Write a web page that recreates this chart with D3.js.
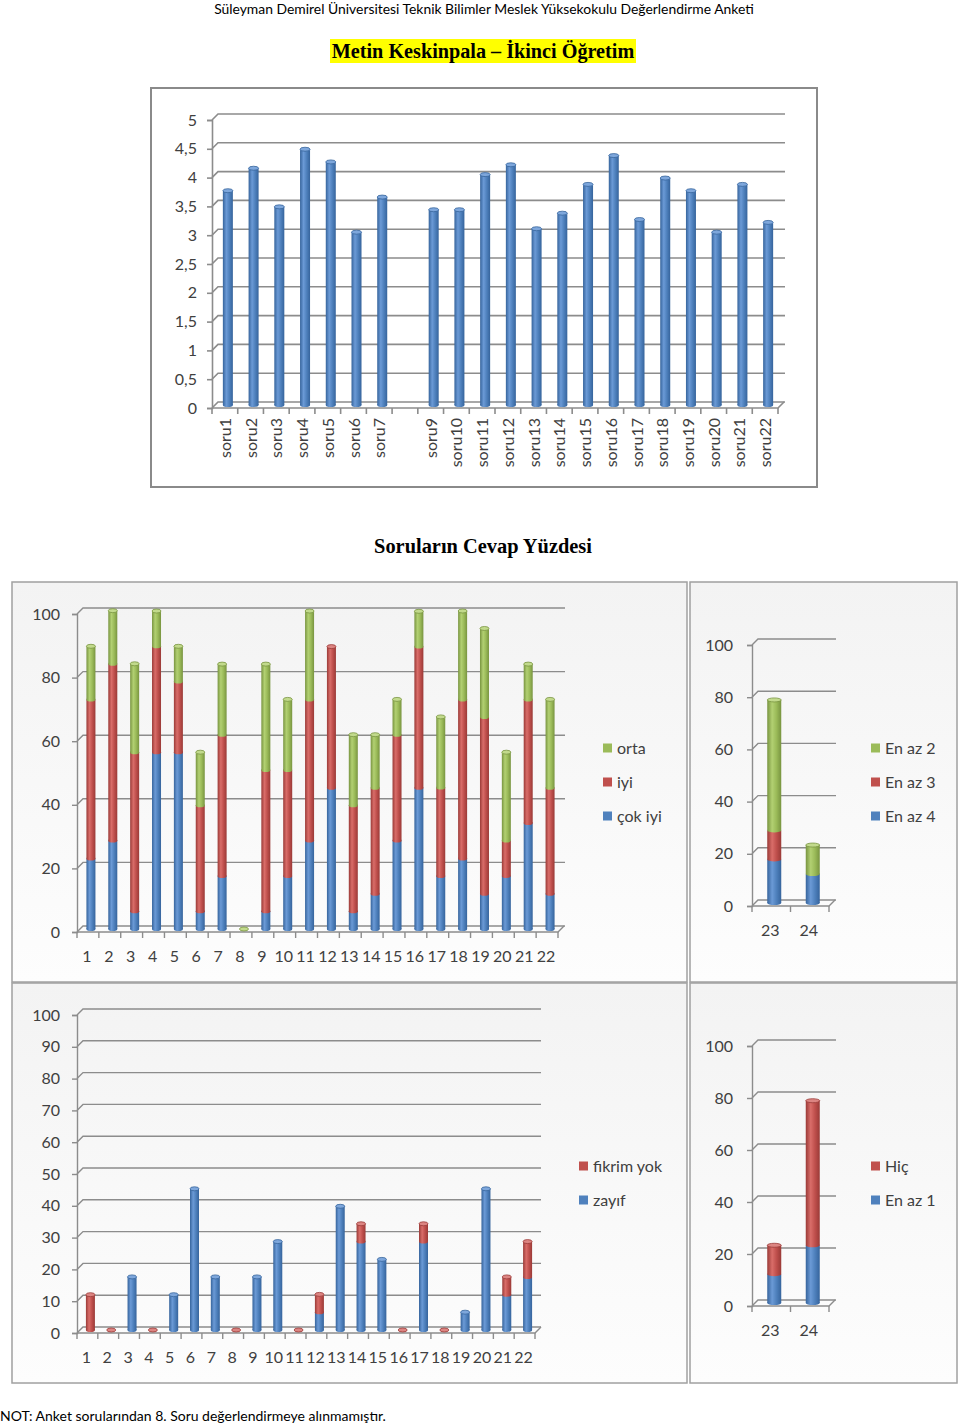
<!DOCTYPE html>
<html><head><meta charset="utf-8">
<script src="https://cdn.jsdelivr.net/npm/d3@7"></script>
<style>body{margin:0;background:#fff;} svg{display:block;}</style>
</head><body><svg id="c" width="960" height="1426"></svg>
<script>
const headerText = "Süleyman Demirel Üniversitesi Teknik Bilimler Meslek Yüksekokulu Değerlendirme Anketi";
const titleText = "Metin Keskinpala – İkinci Öğretim";
const sectionTitle = "Soruların Cevap Yüzdesi";
const footnote = "NOT: Anket sorularından 8. Soru değerlendirmeye alınmamıştır.";

// top chart: mean scores
const avgCategories = ["soru1","soru2","soru3","soru4","soru5","soru6","soru7","soru8","soru9","soru10","soru11","soru12","soru13","soru14","soru15","soru16","soru17","soru18","soru19","soru20","soru21","soru22"];
const avgLabels = ["soru1","soru2","soru3","soru4","soru5","soru6","soru7","","soru9","soru10","soru11","soru12","soru13","soru14","soru15","soru16","soru17","soru18","soru19","soru20","soru21","soru22"];
const avgValues = [3.72,4.11,3.44,4.44,4.22,3.00,3.61,null,3.39,3.39,4.00,4.17,3.06,3.33,3.83,4.33,3.22,3.94,3.72,3.00,3.83,3.17];
const avgTicks = [0,0.5,1,1.5,2,2.5,3,3.5,4,4.5,5];

// panel A: questions 1-22
const q22 = ["1","2","3","4","5","6","7","8","9","10","11","12","13","14","15","16","17","18","19","20","21","22"];
const cokIyi = [22.2,27.8,5.6,55.6,55.6,5.6,16.7,0,5.6,16.7,27.8,44.4,5.6,11.1,27.8,44.4,16.7,22.2,11.1,16.7,33.3,11.1];
const iyi    = [50,55.6,50,33.3,22.2,33.3,44.4,0,44.4,33.3,44.4,44.4,33.3,33.3,33.3,44.4,27.8,50,55.6,11.1,38.9,33.3];
const orta   = [16.7,16.7,27.8,11.1,11.1,16.7,22.2,0,33.3,22.2,27.8,0,22.2,16.7,11.1,11.1,22.2,27.8,27.8,27.8,11.1,27.8];
const ticks100by20 = [0,20,40,60,80,100];

// panel B: questions 23-24
const q2324 = ["23","24"];
const enAz4 = [16.7, 11.1];
const enAz3 = [11.1, 0];
const enAz2 = [50, 11.1];

// panel C: questions 1-22 negative answers
const zayif     = [0,0,16.7,0,11.1,44.4,16.7,0,16.7,27.8,0,5.6,38.9,27.8,22.2,0,27.8,0,5.6,44.4,11.1,16.7];
const fikrimYok = [11.1,0,0,0,0,0,0,0,0,0,0,5.6,0,5.6,0,0,5.6,0,0,0,5.6,11.1];
const ticks100by10 = [0,10,20,30,40,50,60,70,80,90,100];

// panel D
const enAz1 = [11.1, 22.2];
const hic   = [11.1, 55.6];

const COL = {
  blue:  {base:"#4f81bd", dark:"#36649c", light:"#6b9ad6", top:"#7ea7dc"},
  red:   {base:"#c0504d", dark:"#9a3a37", light:"#d96d69", top:"#dc8582"},
  green: {base:"#9bbb59", dark:"#789440", light:"#b2d072", top:"#c2da8c"}
};
const FONT = "Lato, 'Open Sans', sans-serif";
const svg = d3.select("#c");
const defs = svg.append("defs");
Object.entries(COL).forEach(([k,c]) => {
  const g = defs.append("linearGradient").attr("id","g-"+k).attr("x1","0").attr("x2","1").attr("y1","0").attr("y2","0");
  g.append("stop").attr("offset","0%").attr("stop-color",c.dark);
  g.append("stop").attr("offset","35%").attr("stop-color",c.light);
  g.append("stop").attr("offset","65%").attr("stop-color",c.base);
  g.append("stop").attr("offset","100%").attr("stop-color",c.dark);
});
const pg = defs.append("linearGradient").attr("id","panelbg").attr("x1","0").attr("x2","0").attr("y1","0").attr("y2","1");
pg.append("stop").attr("offset","0%").attr("stop-color","#f3f3f3");
pg.append("stop").attr("offset","100%").attr("stop-color","#fdfdfd");

// header texts
svg.append("text").attr("x",484).attr("y",14).attr("text-anchor","middle")
  .style("font-family",FONT).style("font-size","13.9px").attr("fill","#000").text(headerText);
svg.append("rect").attr("x",330).attr("y",39).attr("width",306).attr("height",24).attr("fill","#ffff00");
svg.append("text").attr("x",483).attr("y",58).attr("text-anchor","middle")
  .style("font-family","'Liberation Serif', 'Times New Roman', serif").style("font-weight","bold").style("font-size","20.2px")
  .attr("fill","#000").text(titleText);
svg.append("text").attr("x",483).attr("y",553).attr("text-anchor","middle")
  .style("font-family","'Liberation Serif', 'Times New Roman', serif").style("font-weight","bold").style("font-size","20.4px")
  .attr("fill","#000").text(sectionTitle);
svg.append("text").attr("x",0).attr("y",1421)
  .style("font-family",FONT).style("font-size","14px").attr("fill","#000").text(footnote);

// generic 3D-ish frame
function drawFrame(g, x, y, tickVals, fmt, opts) {
  const dx = opts.dx, dy = opts.dy;
  const ax = x.range()[0], fx = x.range()[1];
  const y0 = y(0);
  const grid = g.append("g");
  tickVals.forEach(v => {
    grid.append("path")
      .attr("d", `M${ax},${y(v)} L${ax+dx},${y(v)+dy} L${opts.backEnd},${y(v)+dy}`)
      .attr("fill","none").attr("stroke","#8c8c8c").attr("stroke-width",opts.gw);
  });
  grid.append("path").attr("d",`M${ax},${y0} L${fx},${y0} L${fx+dx},${y0+dy}`)
    .attr("fill","none").attr("stroke","#8c8c8c").attr("stroke-width",opts.gw);
  const yAxis = d3.axisLeft(y).tickValues(tickVals).tickFormat(fmt).tickSize(5).tickPadding(opts.pad);
  const ya = g.append("g").attr("transform",`translate(${ax},0)`).call(yAxis);
  ya.select(".domain").attr("stroke","#8c8c8c").attr("stroke-width",opts.gw);
  ya.selectAll(".tick line").attr("stroke","#8c8c8c").attr("stroke-width",opts.gw);
  ya.selectAll("text").style("font-family",FONT).style("font-size",opts.fs+"px").attr("fill","#404040");
  const bounds = x.domain().map(d => x(d)).concat([fx]);
  g.append("g").selectAll("line").data(bounds).join("line")
    .attr("x1",d=>d).attr("x2",d=>d).attr("y1",y0).attr("y2",y0+6)
    .attr("stroke","#8c8c8c").attr("stroke-width",opts.gw);
}

function cylinder(g, cx, yTop, yBot, w, key, drawTop) {
  const c = COL[key];
  const h = Math.max(0, yBot - yTop);
  if (h > 0) {
    g.append("rect").attr("x",cx-w/2).attr("y",yTop).attr("width",w).attr("height",h).attr("fill",`url(#g-${key})`);
    g.append("ellipse").attr("cx",cx).attr("cy",yBot).attr("rx",w/2).attr("ry",2).attr("fill",`url(#g-${key})`);
  }
  if (drawTop) {
    g.append("ellipse").attr("cx",cx).attr("cy",yTop).attr("rx",w/2).attr("ry",2)
      .attr("fill",c.top).attr("stroke",c.dark).attr("stroke-width",0.8);
  }
}

// ---------- top chart ----------
(function(){
  svg.append("rect").attr("x",151).attr("y",88).attr("width",666).attr("height",399)
    .attr("fill","#fff").attr("stroke","#8a8a8a").attr("stroke-width",2);
  const g = svg.append("g");
  const x = d3.scaleBand().domain(avgCategories).range([212,778]);
  const y = d3.scaleLinear().domain([0,5]).range([408,120]);
  drawFrame(g, x, y, avgTicks, d => String(d).replace(".",","), {dx:6, dy:-6, backEnd:785, gw:1.6, pad:10, fs:16});
  const bars = g.append("g");
  avgCategories.forEach((c,i) => {
    const v = avgValues[i];
    if (v == null) return;
    const cx = x(c) + x.bandwidth()/2 + 3;
    cylinder(bars, cx, y(v)-3, y(0)-3, 10, "blue", true);
  });
  g.append("g").selectAll("text").data(avgCategories).join("text")
    .attr("transform", (d) => `translate(${x(d)+x.bandwidth()/2+6},${418}) rotate(-90)`)
    .attr("text-anchor","end")
    .style("font-family",FONT).style("font-size","16px").attr("fill","#404040")
    .text((d,i) => avgLabels[i]);
})();

// ---------- stacked panels ----------
function stackedPanel(cfg) {
  svg.append("rect").attr("x",cfg.box[0]).attr("y",cfg.box[1]).attr("width",cfg.box[2]).attr("height",cfg.box[3])
    .attr("fill","url(#panelbg)").attr("stroke","#a0a0a0").attr("stroke-width",1.5);
  const g = svg.append("g");
  const x = d3.scaleBand().domain(cfg.cats).range([cfg.ax, cfg.fx]);
  const y = d3.scaleLinear().domain([0,100]).range([cfg.y0, cfg.y100]);
  drawFrame(g, x, y, cfg.ticks, d => d, {dx:6, dy:-6, backEnd:cfg.backEnd, gw:1.4, pad:cfg.pad, fs:16});
  const rows = cfg.cats.map((c,i) => {
    const r = {cat:c};
    cfg.series.forEach(s => r[s.name] = s.values[i]);
    return r;
  });
  const stack = d3.stack().keys(cfg.series.map(s => s.name))(rows);
  const bars = g.append("g");
  cfg.cats.forEach((c,i) => {
    const cx = x(c) + x.bandwidth()/2 + 3;
    let lastKey = cfg.series[cfg.series.length-1].color, topVal = 0;
    stack.forEach((layer, li) => {
      const [a,b] = layer[i];
      if (b - a > 0) {
        cylinder(bars, cx, y(b)-3, y(a)-3, cfg.barW, cfg.series[li].color, false);
        lastKey = cfg.series[li].color; topVal = b;
      }
    });
    cylinder(bars, cx, y(topVal)-3, y(topVal)-3, cfg.barW, lastKey, true);
  });
  g.append("g").selectAll("text").data(cfg.cats).join("text")
    .attr("x", d => x(d)+x.bandwidth()/2-1).attr("y", cfg.y0+30)
    .attr("text-anchor","middle")
    .style("font-family",FONT).style("font-size","16px").attr("fill","#404040")
    .text(d => d);
  const leg = g.append("g");
  cfg.legendItems.forEach((it, k) => {
    const yy = cfg.legY[k];
    leg.append("rect").attr("x",cfg.legX).attr("y",yy-4.5).attr("width",9).attr("height",9).attr("fill",COL[it.color].base);
    leg.append("text").attr("x",cfg.legX+14).attr("y",yy+5.5)
      .style("font-family",FONT).style("font-size","16px").attr("fill","#404040").text(it.name);
  });
}

stackedPanel({
  box:[12,582,675,400], cats:q22, ax:77, fx:558, backEnd:565, y0:932, y100:614, ticks:ticks100by20, pad:12, barW:9,
  series:[{name:"çok iyi",values:cokIyi,color:"blue"},{name:"iyi",values:iyi,color:"red"},{name:"orta",values:orta,color:"green"}],
  legendItems:[{name:"orta",color:"green"},{name:"iyi",color:"red"},{name:"çok iyi",color:"blue"}],
  legX:603, legY:[748,782,816]
});
stackedPanel({
  box:[690,582,267,400], cats:q2324, ax:752, fx:829, backEnd:836, y0:906, y100:645, ticks:ticks100by20, pad:14, barW:14,
  series:[{name:"En az 4",values:enAz4,color:"blue"},{name:"En az 3",values:enAz3,color:"red"},{name:"En az 2",values:enAz2,color:"green"}],
  legendItems:[{name:"En az 2",color:"green"},{name:"En az 3",color:"red"},{name:"En az 4",color:"blue"}],
  legX:871, legY:[748,782,816]
});
stackedPanel({
  box:[12,983,675,400], cats:q22, ax:77, fx:535, backEnd:541, y0:1333, y100:1015, ticks:ticks100by10, pad:12, barW:9,
  series:[{name:"zayıf",values:zayif,color:"blue"},{name:"fikrim yok",values:fikrimYok,color:"red"}],
  legendItems:[{name:"fikrim yok",color:"red"},{name:"zayıf",color:"blue"}],
  legX:579, legY:[1166,1200]
});
stackedPanel({
  box:[690,983,267,400], cats:q2324, ax:752, fx:829, backEnd:836, y0:1306, y100:1046, ticks:ticks100by20, pad:14, barW:14,
  series:[{name:"En az 1",values:enAz1,color:"blue"},{name:"Hiç",values:hic,color:"red"}],
  legendItems:[{name:"Hiç",color:"red"},{name:"En az 1",color:"blue"}],
  legX:871, legY:[1166,1200]
});
</script></body></html>
